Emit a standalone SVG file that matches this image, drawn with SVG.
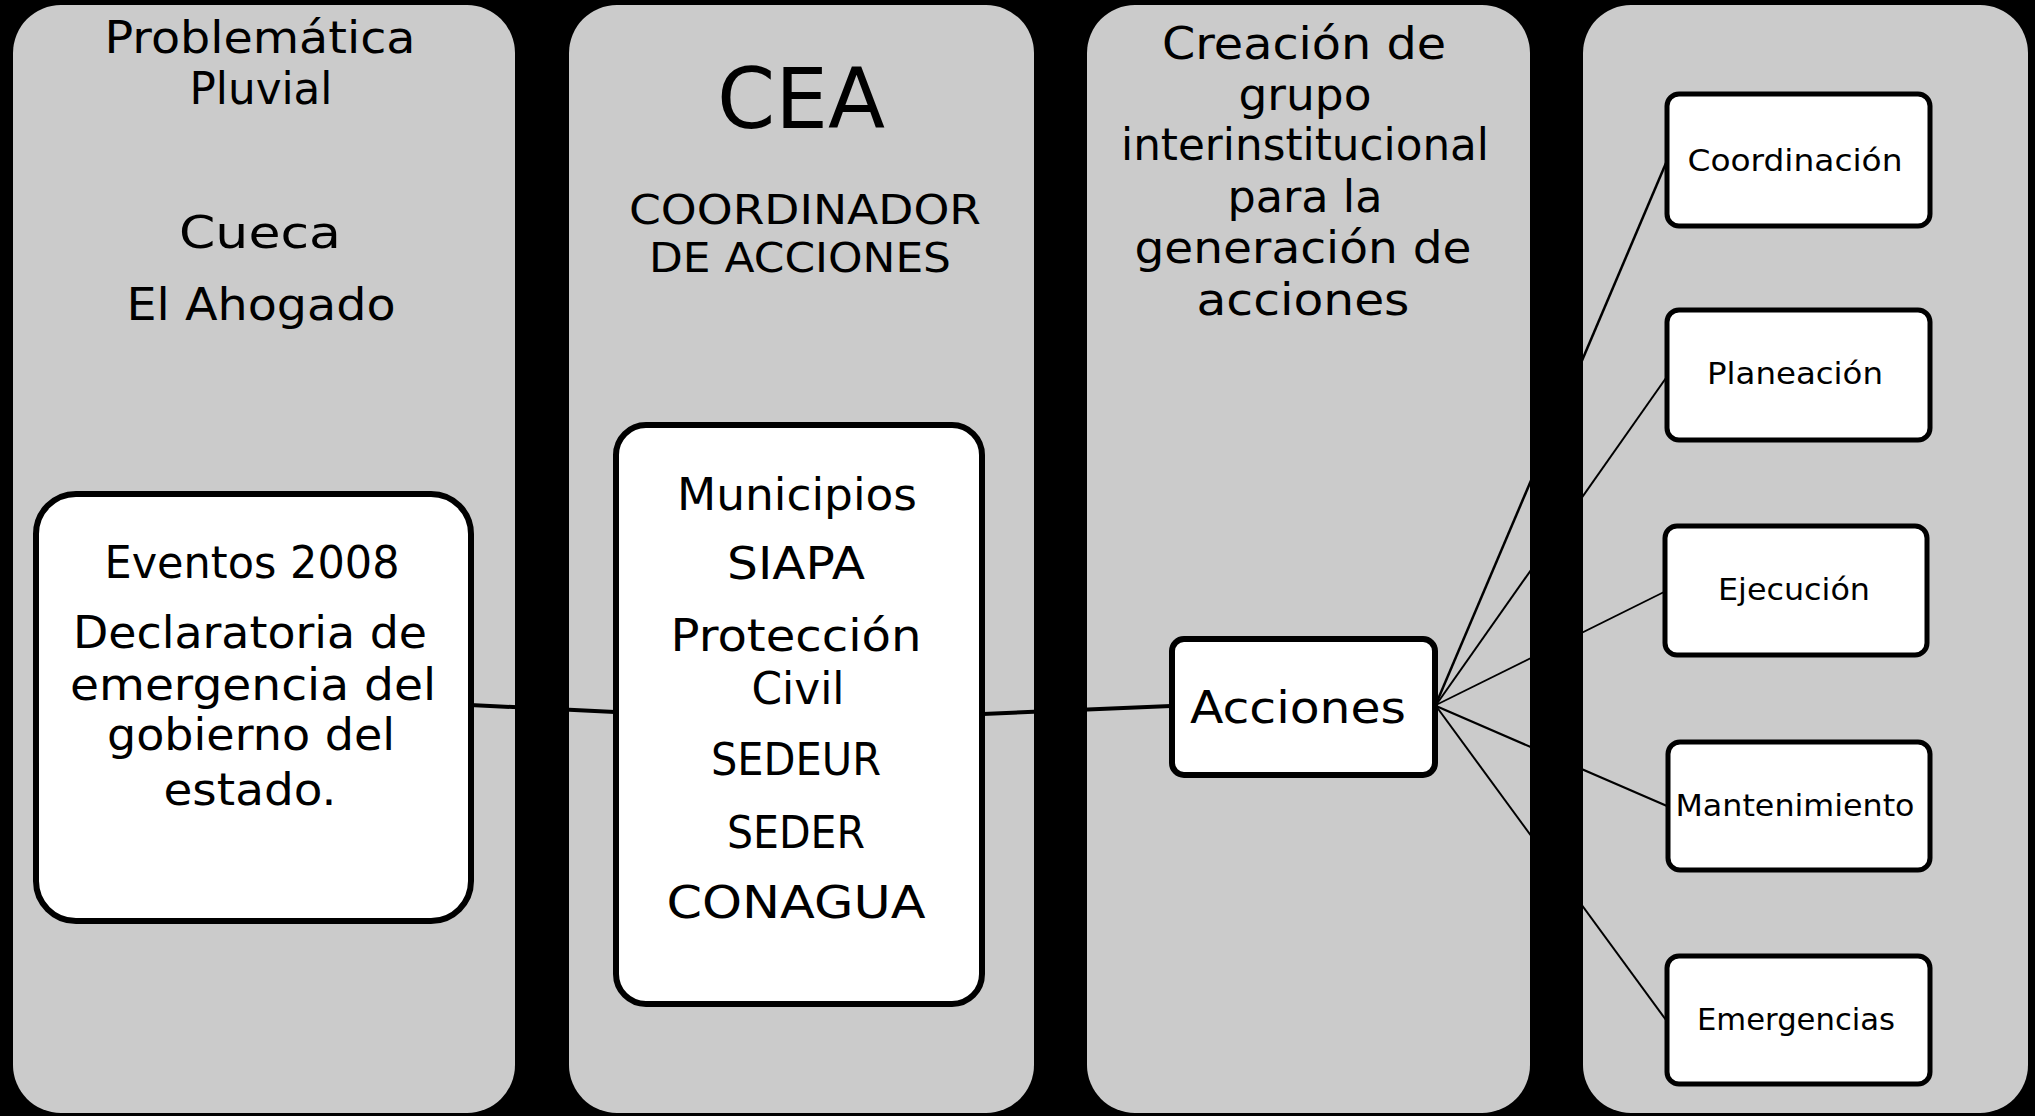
<svg xmlns="http://www.w3.org/2000/svg" width="2035" height="1116" viewBox="0 0 2035 1116">
<style>
.col{fill:#cbcbcb;stroke:none}
.box{fill:#ffffff;stroke:#000000;stroke-width:6}
.sbox{fill:#ffffff;stroke:#000000;stroke-width:5}
text{font-family:"Century Gothic","URW Gothic","DejaVu Sans",sans-serif;fill:#000000;text-anchor:middle}
.t45{font-size:45px}
.t40{font-size:40px}
.t84{font-size:84px}
.t32{font-size:31px}
.conn{stroke:#000000;fill:none}
</style>
<rect x="0" y="0" width="2035" height="1116" fill="#000000"/>
<g id="columns">
<rect id="col1" class="col" x="13" y="5" width="502" height="1108" rx="48" ry="48"/>
<rect id="col2" class="col" x="569" y="5" width="465" height="1108" rx="48" ry="48"/>
<rect id="col3" class="col" x="1087" y="5" width="443" height="1108" rx="48" ry="48"/>
<rect id="col4" class="col" x="1583" y="5" width="445" height="1108" rx="48" ry="48"/>
</g>
<g id="column-titles">
<text class="t45" x="260" y="53" textLength="311" lengthAdjust="spacingAndGlyphs">Problemática</text>
<text class="t45" x="261" y="104" textLength="143" lengthAdjust="spacingAndGlyphs">Pluvial</text>
<text class="t45" x="260" y="248" textLength="162" lengthAdjust="spacingAndGlyphs">Cueca</text>
<text class="t45" x="261" y="320" textLength="269" lengthAdjust="spacingAndGlyphs">El Ahogado</text>
<text class="t84" x="801" y="128" textLength="168" lengthAdjust="spacingAndGlyphs">CEA</text>
<text class="t40" x="805" y="224" textLength="352" lengthAdjust="spacingAndGlyphs">COORDINADOR</text>
<text class="t40" x="800" y="272" textLength="302" lengthAdjust="spacingAndGlyphs">DE ACCIONES</text>
<text class="t45" x="1304" y="59" textLength="284" lengthAdjust="spacingAndGlyphs">Creación de</text>
<text class="t45" x="1305" y="110" textLength="133" lengthAdjust="spacingAndGlyphs">grupo</text>
<text class="t45" x="1305" y="160" textLength="368" lengthAdjust="spacingAndGlyphs">interinstitucional</text>
<text class="t45" x="1305" y="212" textLength="155" lengthAdjust="spacingAndGlyphs">para la</text>
<text class="t45" x="1303" y="263" textLength="337" lengthAdjust="spacingAndGlyphs">generación de</text>
<text class="t45" x="1303" y="315" textLength="213" lengthAdjust="spacingAndGlyphs">acciones</text>
</g>
<g id="connectors">
<path class="conn" stroke-width="4" d="M470,705 L615,712"/>
<path class="conn" stroke-width="4" d="M983,714 L1171,706"/>
<line class="conn" stroke-width="2.5" x1="1436" y1="704" x2="1666" y2="163"/>
<line class="conn" stroke-width="2" x1="1436" y1="705" x2="1666" y2="378"/>
<line class="conn" stroke-width="1.8" x1="1436" y1="705" x2="1664" y2="592"/>
<line class="conn" stroke-width="2.2" x1="1436" y1="706" x2="1667" y2="806"/>
<line class="conn" stroke-width="2" x1="1436" y1="706" x2="1666" y2="1020"/>
</g>
<g id="node-eventos">
<rect class="box" x="36" y="494" width="435" height="427" rx="40" ry="40"/>
<text class="t45" x="252" y="578" textLength="295" lengthAdjust="spacingAndGlyphs">Eventos 2008</text>
<text class="t45" x="250" y="648" textLength="354" lengthAdjust="spacingAndGlyphs">Declaratoria de</text>
<text class="t45" x="253" y="700" textLength="366" lengthAdjust="spacingAndGlyphs">emergencia del</text>
<text class="t45" x="251" y="750" textLength="288" lengthAdjust="spacingAndGlyphs">gobierno del</text>
<text class="t45" x="250" y="805" textLength="173" lengthAdjust="spacingAndGlyphs">estado.</text>
</g>
<g id="node-municipios">
<rect class="box" x="616" y="425" width="366" height="579" rx="30" ry="30"/>
<text class="t45" x="797" y="510" textLength="240" lengthAdjust="spacingAndGlyphs">Municipios</text>
<text class="t45" x="796" y="579" textLength="138" lengthAdjust="spacingAndGlyphs">SIAPA</text>
<text class="t45" x="796" y="651" textLength="251" lengthAdjust="spacingAndGlyphs">Protección</text>
<text class="t45" x="798" y="704" textLength="93" lengthAdjust="spacingAndGlyphs">Civil</text>
<text class="t45" x="796" y="775" textLength="170" lengthAdjust="spacingAndGlyphs">SEDEUR</text>
<text class="t45" x="796" y="848" textLength="138" lengthAdjust="spacingAndGlyphs">SEDER</text>
<text class="t45" x="796" y="918" textLength="259" lengthAdjust="spacingAndGlyphs">CONAGUA</text>
</g>
<g id="node-acciones">
<rect class="box" x="1172" y="639" width="263" height="136" rx="12" ry="12"/>
<text class="t45" x="1298" y="723" textLength="216" lengthAdjust="spacingAndGlyphs">Acciones</text>
</g>
<g id="node-coordinacion">
<rect class="sbox" x="1667" y="94" width="263" height="132" rx="12" ry="12"/>
<text class="t32" x="1795" y="171" textLength="215" lengthAdjust="spacingAndGlyphs">Coordinación</text>
</g>
<g id="node-planeacion">
<rect class="sbox" x="1667" y="310" width="263" height="130" rx="12" ry="12"/>
<text class="t32" x="1795" y="384" textLength="176" lengthAdjust="spacingAndGlyphs">Planeación</text>
</g>
<g id="node-ejecucion">
<rect class="sbox" x="1665" y="526" width="262" height="129" rx="12" ry="12"/>
<text class="t32" x="1794" y="600" textLength="152" lengthAdjust="spacingAndGlyphs">Ejecución</text>
</g>
<g id="node-mantenimiento">
<rect class="sbox" x="1668" y="742" width="262" height="128" rx="12" ry="12"/>
<text class="t32" x="1795" y="816" textLength="239" lengthAdjust="spacingAndGlyphs">Mantenimiento</text>
</g>
<g id="node-emergencias">
<rect class="sbox" x="1667" y="956" width="263" height="128" rx="12" ry="12"/>
<text class="t32" x="1796" y="1030" textLength="198" lengthAdjust="spacingAndGlyphs">Emergencias</text>
</g>
</svg>
